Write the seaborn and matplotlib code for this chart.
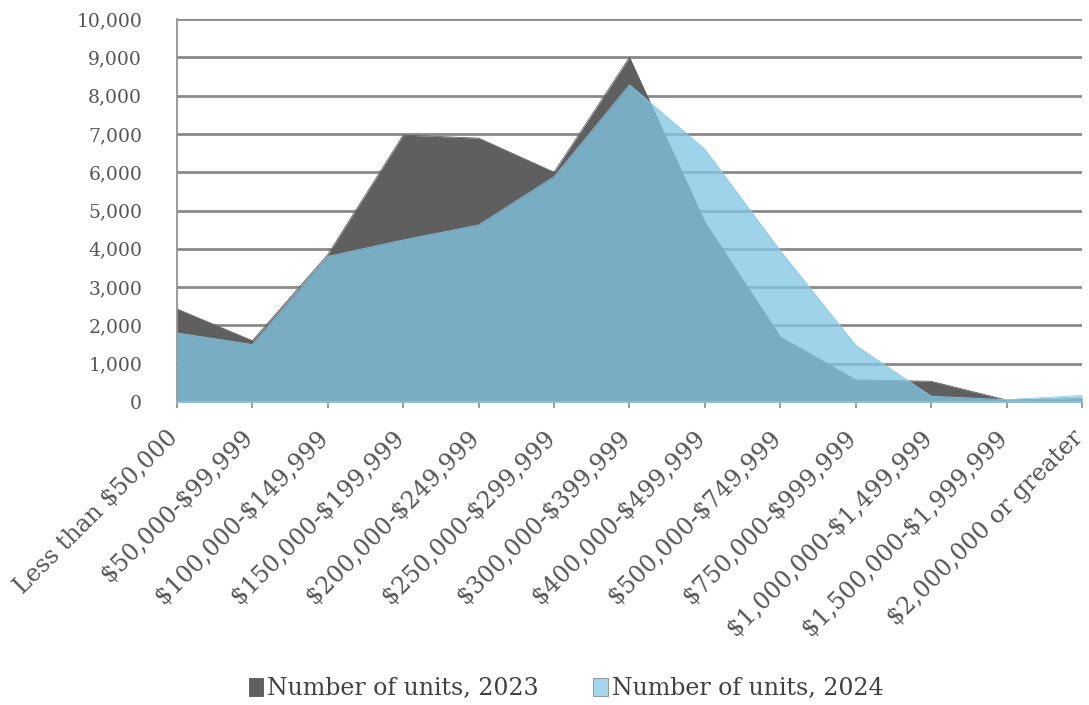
import numpy as np
import pandas as pd
import matplotlib.pyplot as plt
import matplotlib.transforms as mtransforms
import seaborn as sns

# price bands and unit counts
categories = ["Less than $50,000", "$50,000-$99,999", "$100,000-$149,999",
              "$150,000-$199,999", "$200,000-$249,999", "$250,000-$299,999",
              "$300,000-$399,999", "$400,000-$499,999", "$500,000-$749,999",
              "$750,000-$999,999", "$1,000,000-$1,499,999", "$1,500,000-$1,999,999",
              "$2,000,000 or greater"]
units_2023 = [2430, 1600, 3850, 6970, 6890, 6000, 9000, 4700, 1700, 580, 540, 50, 90]
units_2024 = [1800, 1500, 3800, 4230, 4620, 5880, 8280, 6600, 3950, 1480, 150, 60, 170]
yticks = list(range(0, 10001, 1000))

df = pd.DataFrame({
    "pos": list(range(len(categories))) * 2,
    "units": units_2023 + units_2024,
    "series": ["Number of units, 2023"] * len(categories) + ["Number of units, 2024"] * len(categories),
})

sns.set_theme(style="white")
plt.rcParams["font.family"] = ["DejaVu Serif"]
plt.rcParams["text.parse_math"] = False  # keep the $ signs literal

col_2023 = "#5f5f5f"
col_2024 = "#82c6e4"
alpha_2024 = 0.77
txt = "#555555"

fig = plt.figure(figsize=(10.89, 7.05), dpi=100)
ax = fig.add_axes([0.1625, 0.4298, 0.9936 - 0.1625, 0.973 - 0.4298])

x = np.arange(len(categories))
ax.fill_between(x, 0, units_2023, color=col_2023, lw=0, zorder=2)
ax.fill_between(x, 0, units_2024, color=col_2024, alpha=alpha_2024, lw=0, zorder=3)
sns.lineplot(data=df[df.series.str.endswith("2023")], x="pos", y="units",
             color=col_2023, lw=0.6, ax=ax, legend=False, zorder=2)
sns.lineplot(data=df[df.series.str.endswith("2024")], x="pos", y="units",
             color="#8ccbe6", lw=0.6, ax=ax, legend=False, zorder=4)

ax.set_xlim(0, len(categories) - 1)
ax.set_ylim(0, 10000)
ax.set_yticks(yticks)
ax.set_yticklabels([f"{v:,}" for v in yticks], fontsize=13.5, color=txt)
ax.yaxis.grid(True, color="#8a8a8a", lw=2, zorder=1)
ax.set_axisbelow(True)
ax.set_xticks(x)
ax.set_xticklabels([])
ax.tick_params(axis="x", bottom=True, length=4, width=1.2, color="#8a8a8a")
ax.tick_params(axis="y", left=False, pad=19)

# rotated category labels, anchored just below-left of each tick
lab_trans = ax.get_xaxis_transform() + mtransforms.ScaledTranslation(
    -11 / 100, -24 / 100, fig.dpi_scale_trans)
for i, cat in enumerate(categories):
    ax.text(i, 0, cat, transform=lab_trans, rotation=45, rotation_mode="anchor",
            ha="right", va="top", fontsize=17, color=txt, clip_on=False)

ax.set_xlabel("")
ax.set_ylabel("")
for s in ["top", "right"]:
    ax.spines[s].set_visible(False)
ax.spines["left"].set_color("#8a8a8a")
ax.spines["bottom"].set_color("#9ab8c6")
ax.spines["left"].set_linewidth(1.2)
ax.spines["bottom"].set_linewidth(1.5)

handles = [plt.Rectangle((0, 0), 1, 1, facecolor=col_2023, edgecolor="#444444", lw=0.5),
           plt.Rectangle((0, 0), 1, 1, facecolor="#a3d6ec", edgecolor="#777777", lw=0.5)]
fig.legend(handles, ["Number of units, 2023", "Number of units, 2024"],
           loc="center", bbox_to_anchor=(0.52, 0.023), ncol=2, frameon=False,
           fontsize=17, handlelength=0.6, handleheight=0.8, handletextpad=0.2,
           columnspacing=2.3, labelcolor="#404040")

fig.savefig("out.png", dpi=100)
